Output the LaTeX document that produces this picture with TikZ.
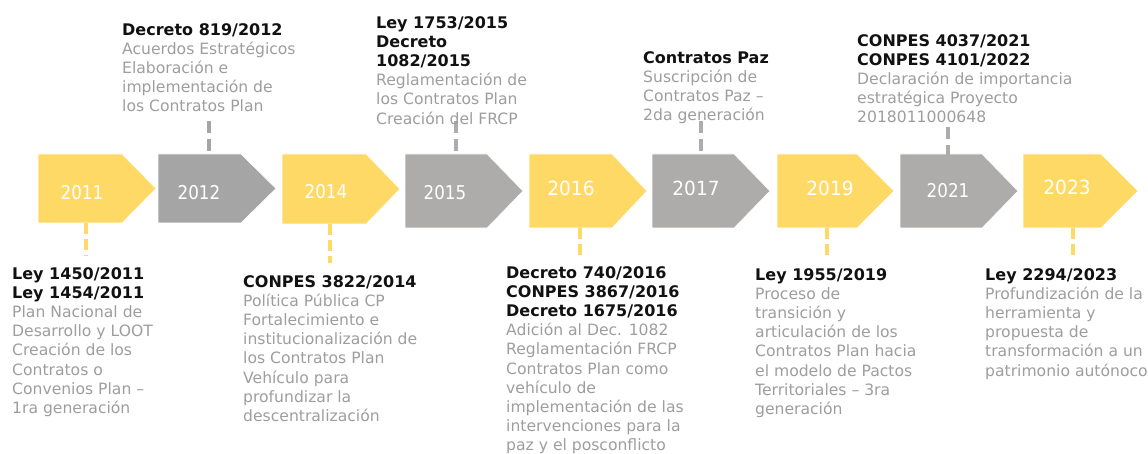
\documentclass[tikz,border=0pt]{standalone}
\usepackage{fontspec}
\setmainfont{DejaVu Sans}
\newfontfamily\yrthin[FakeStretch=0.88]{DejaVu Sans}
\newfontfamily\yrreg[FakeStretch=0.95]{DejaVu Sans}
\definecolor{amar}{HTML}{FFD966}
\definecolor{grisA}{HTML}{A5A5A5}
\definecolor{grisB}{HTML}{AEABAB}
\definecolor{txtgris}{HTML}{9E9E9E}
\definecolor{txtneg}{HTML}{111111}
\tikzset{
  yrthinlbl/.style={text=white,font=\yrthin\fontsize{19}{22}\selectfont,inner sep=0pt},
  yrreglbl/.style={text=white,font=\yrreg\fontsize{19.5}{22}\selectfont,inner sep=0pt},
  desc/.style={anchor=north west,align=left,inner sep=0pt,text=txtgris,font=\fontsize{15.6}{19.2}\selectfont},
  gdash/.style={line width=4.5pt,dash pattern=on 12pt off 6pt},
  ydash/.style={line width=4.5pt,dash pattern=on 11pt off 5pt,draw=amar},
  pentabox/.style={draw=white,line width=0.6pt},
}
\newcommand\hd[1]{\textcolor{txtneg}{\fontsize{16}{19.2}\selectfont\bfseries #1}}
\newcommand\drawpenta[6]{\fill[pentabox,fill=#6] (#1,#4) -- (#2,#4) -- (#3,{(#4+#5)/2}) -- (#2,#5) -- (#1,#5) -- cycle;}
\begin{document}
\begin{tikzpicture}[x=1pt,y=-1pt]
\useasboundingbox (0,0) rectangle (1148,454);
\fill[white] (0,0) rectangle (1148,454);

% pentagons
\drawpenta{38}{122}{156}{154}{223}{amar}
\drawpenta{158}{241}{276}{154}{223}{grisA}
\drawpenta{282}{366}{400}{154}{224}{amar}
\drawpenta{405}{487}{523}{154}{228}{grisB}
\drawpenta{529}{612}{647}{154}{228}{amar}
\drawpenta{652}{734}{770}{154}{228}{grisB}
\drawpenta{777}{857}{894}{154}{228}{amar}
\drawpenta{900}{982}{1018}{154}{228}{grisB}
\drawpenta{1023}{1101}{1138}{154}{228}{amar}

% year labels
\node[yrthinlbl] (y2011) at (82,193) {2011};
\node[yrthinlbl] (y2012) at (199,193) {2012};
\node[yrthinlbl] (y2014) at (326,192) {2014};
\node[yrthinlbl] (y2015) at (445,193) {2015};
\node[yrreglbl] (y2016) at (571,188) {2016};
\node[yrreglbl] (y2017) at (696,188) {2017};
\node[yrreglbl] (y2019) at (830,188) {2019};
\node[yrthinlbl] (y2021) at (948,191) {2021};
\node[yrreglbl] (y2023) at (1067,187) {2023};

% connector end points
\coordinate (a2012) at (209,121); \coordinate (b2012) at (209,154);
\coordinate (a2015) at (456,121); \coordinate (b2015) at (456,154);
\coordinate (a2017) at (701,121); \coordinate (b2017) at (701,154);
\coordinate (a2021) at (948,127); \coordinate (b2021) at (948,155);
\coordinate (a2011) at (86,223); \coordinate (b2011) at (86,256);
\coordinate (a2014) at (330,224); \coordinate (b2014) at (330,263);
\coordinate (a2016) at (580,228); \coordinate (b2016) at (580,260);
\coordinate (a2019) at (827,228); \coordinate (b2019) at (827,257);
\coordinate (a2023) at (1073,228); \coordinate (b2023) at (1073,256);

\draw[gdash,draw=grisA] (a2012) -- (b2012);
\draw[gdash,draw=grisB] (a2015) -- (b2015);
\draw[gdash,draw=grisB] (a2017) -- (b2017);
\draw[gdash,draw=grisB] (a2021) -- (b2021);
\draw[ydash] (a2011) -- (b2011);
\draw[ydash] (a2014) -- (b2014);
\draw[ydash] (a2016) -- (b2016);
\draw[ydash] (a2019) -- (b2019);
\draw[ydash] (a2023) -- (b2023);

% texts above
\node[desc] (t2012) at (122,23) {\hd{Decreto 819/2012}\\ Acuerdos Estratégicos\\ Elaboración e\\ implementación de\\ los Contratos Plan};
\node[desc] (t2015) at (376,16) {\hd{Ley 1753/2015}\\ \hd{Decreto}\\ \hd{1082/2015}\\ Reglamentación de\\ los Contratos Plan\\ Creación del FRCP};
\node[desc] (t2017) at (643,51) {\hd{Contratos Paz}\\ Suscripción de\\ Contratos Paz –\\ 2da generación};
\node[desc] (t2021) at (857,34) {\hd{CONPES 4037/2021}\\ \hd{CONPES 4101/2022}\\ Declaración de importancia\\ estratégica Proyecto\\ 2018011000648};

% texts below
\node[desc] (t2011) at (12,267) {\hd{Ley 1450/2011}\\ \hd{Ley 1454/2011}\\ Plan Nacional de\\ Desarrollo y LOOT\\ Creación de los\\ Contratos o\\ Convenios Plan –\\ 1ra generación};
\node[desc] (t2014) at (243,275) {\hd{CONPES 3822/2014}\\ Política Pública CP\\ Fortalecimiento e\\ institucionalización de\\ los Contratos Plan\\ Vehículo para\\ profundizar la\\ descentralización};
\node[desc] (t2016) at (506,266) {\hd{Decreto 740/2016}\\ \hd{CONPES 3867/2016}\\ \hd{Decreto 1675/2016}\\ Adición al Dec. 1082\\ Reglamentación FRCP\\ Contratos Plan como\\ vehículo de\\ implementación de las\\ intervenciones para la\\ paz y el posconflicto};
\node[desc] (t2019) at (755,268) {\hd{Ley 1955/2019}\\ Proceso de\\ transición y\\ articulación de los\\ Contratos Plan hacia\\ el modelo de Pactos\\ Territoriales – 3ra\\ generación};
\node[desc] (t2023) at (985,268) {\hd{Ley 2294/2023}\\ Profundización de la\\ herramienta y\\ propuesta de\\ transformación a un\\ patrimonio autónoco};
\end{tikzpicture}
\end{document}
